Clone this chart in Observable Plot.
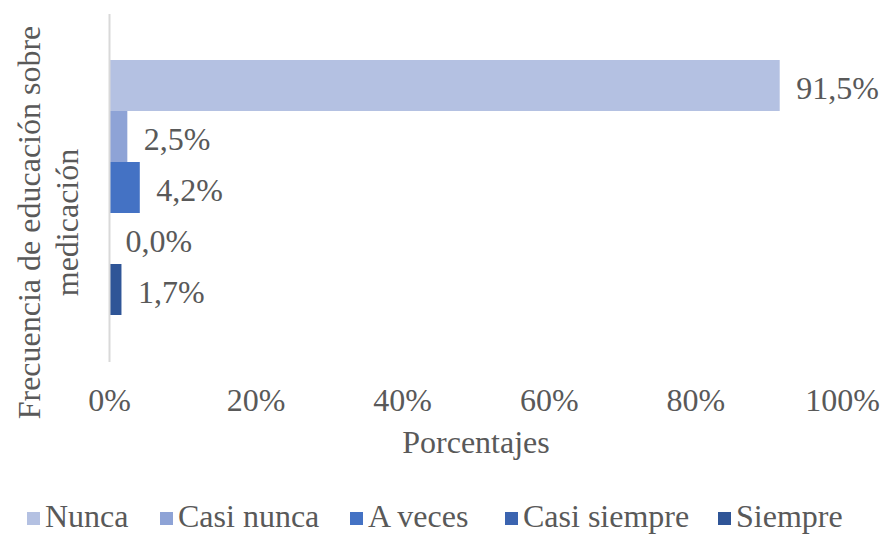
<!DOCTYPE html>
<html>
<head>
<meta charset="utf-8">
<script src="https://cdn.jsdelivr.net/npm/d3@7"></script>
<script src="https://cdn.jsdelivr.net/npm/@observablehq/plot@0.6"></script>
<style>
  html, body { margin: 0; padding: 0; background: #fff; }
  body { width: 887px; height: 535px; font-family: "Liberation Serif", "Times New Roman", serif; position: relative; }
  #legend { position: absolute; left: 0; top: 500px; width: 887px; height: 32px;
    font-size: 32px; line-height: 32px; color: #595959; }
  #legend .item { position: absolute; top: 0; display: flex; align-items: center; white-space: nowrap; }
  #legend .sw { width: 13px; height: 13px; margin-right: 5px; margin-top: 4px; }
</style>
</head>
<body>
<div id="chart"></div>
<div id="legend"></div>
<script>
const categories = ["Nunca", "Casi nunca", "A veces", "Casi siempre", "Siempre"];
const values = [91.5, 2.5, 4.2, 0.0, 1.7];
const colors = ["#b4c1e2", "#8ea3d6", "#4472c4", "#3b64b0", "#2f5597"];
const xTicks = [0, 20, 40, 60, 80, 100];
const yTitle = "Frecuencia de educación sobre\nmedicación";
const xTitle = "Porcentajes";
const legendLeft = [27, 160, 350, 505, 718];

const data = categories.map((c, i) => ({category: c, value: values[i]}));
const fmt = v => v.toFixed(1).replace(".", ",") + "%";
const textColor = "#595959";

const chart = Plot.plot({
  width: 887,
  height: 475,
  marginLeft: 109,
  marginRight: 45,
  marginTop: 14,
  marginBottom: 113,
  style: {fontFamily: "'Liberation Serif', 'Times New Roman', serif", background: "#fff", color: textColor},
  x: {domain: [0, 100], axis: null},
  y: {domain: categories, range: [60, 315], padding: 0, axis: null},
  color: {domain: categories, range: colors},
  marks: [
    Plot.barX(data, {x: "value", y: "category", fill: "category"}),
    Plot.ruleX([0], {stroke: "#d9d9d9", strokeWidth: 2}),
    Plot.text(data, {x: "value", y: "category", text: d => fmt(d.value), textAnchor: "start", dx: 16, dy: 3, fontSize: 32, fill: textColor}),
    Plot.axisX({ticks: xTicks, tickSize: 0, tickPadding: 26, tickFormat: d => d + "%", fontSize: 32, fill: textColor, label: null}),
    Plot.text([xTitle], {frameAnchor: "bottom", dy: 90, fontSize: 32, fill: textColor}),
    Plot.text([yTitle], {frameAnchor: "left", textAnchor: "middle", dx: -63, dy: 34, rotate: -90, fontSize: 32, lineHeight: 1.19, fill: textColor})
  ]
});
document.getElementById("chart").appendChild(chart);

const legend = document.getElementById("legend");
categories.forEach((c, i) => {
  const item = document.createElement("div");
  item.className = "item";
  item.style.left = legendLeft[i] + "px";
  const sw = document.createElement("span");
  sw.className = "sw";
  sw.style.background = colors[i];
  const t = document.createElement("span");
  t.textContent = c;
  item.appendChild(sw);
  item.appendChild(t);
  legend.appendChild(item);
});
</script>
</body>
</html>
